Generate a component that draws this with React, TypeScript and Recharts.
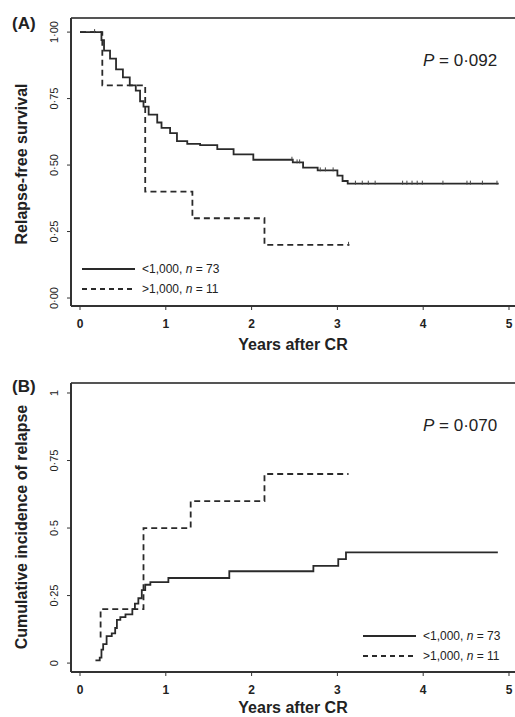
import React from 'react';
import { ComposedChart, Line, Scatter, XAxis, YAxis, ReferenceLine } from 'recharts';

// (A) relapse-free survival, step curves
const aLowT = [0, 0.25, 0.28, 0.35, 0.42, 0.5, 0.58, 0.65, 0.7, 0.74, 0.8, 0.9, 0.95, 1.05, 1.13, 1.25, 1.4, 1.6, 1.79, 2.02, 2.48, 2.6, 2.77, 3.0, 3.06, 3.12, 4.88];
const aLowS = [1.0, 0.97, 0.93, 0.9, 0.86, 0.83, 0.8, 0.78, 0.74, 0.72, 0.69, 0.66, 0.64, 0.62, 0.59, 0.58, 0.575, 0.56, 0.54, 0.52, 0.51, 0.49, 0.48, 0.46, 0.44, 0.43, 0.43];
const aHighT = [0, 0.26, 0.76, 1.31, 2.15, 3.14];
const aHighS = [1.0, 0.8, 0.4, 0.3, 0.2, 0.2];
const aLowCensor = [0.17, 2.47, 2.53, 2.56, 2.8, 2.86, 2.95, 3.21, 3.29, 3.36, 3.44, 3.76, 3.81, 3.87, 3.93, 3.99, 4.23, 4.51, 4.55, 4.69, 4.86];
const aHighCensor = [3.13];

// (B) cumulative incidence of relapse
const bLowT = [0.18, 0.23, 0.25, 0.27, 0.31, 0.37, 0.41, 0.43, 0.47, 0.53, 0.61, 0.64, 0.68, 0.72, 0.76, 0.82, 1.03, 1.74, 2.72, 3.01, 3.1, 4.87];
const bLowC = [0.01, 0.02, 0.05, 0.07, 0.1, 0.11, 0.13, 0.16, 0.17, 0.18, 0.2, 0.22, 0.24, 0.27, 0.29, 0.3, 0.315, 0.34, 0.36, 0.385, 0.41, 0.41];
const bHighT = [0.24, 0.24, 0.74, 1.29, 2.15, 3.13];
const bHighC = [0.095, 0.2, 0.5, 0.6, 0.7, 0.7];

const xTicks = [0, 1, 2, 3, 4, 5];
const yTicks = [0, 0.25, 0.5, 0.75, 1];
const aYLabels = ['0·00', '0·25', '0·50', '0·75', '1·00'];
const bYLabels = ['0', '0·25', '0·5', '0·75', '1'];
const legendLabels = ['<1,000, n = 73', '>1,000, n = 11'];

const FONT = '"Liberation Sans", Arial, sans-serif';
const INK = '#222';
const AXIS = '#333';

const toRows = (ts: number[], vs: number[]) => ts.map((t, i) => ({ t, s: vs[i] }));
const stepAt = (ts: number[], vs: number[], t: number) => {
  let v = vs[0];
  ts.forEach((tt, i) => { if (tt <= t) v = vs[i]; });
  return v;
};
const censorRows = (times: number[], ts: number[], vs: number[]) =>
  times.map((t) => ({ t, s: stepAt(ts, vs, t) }));

const CensorMark = (props: any) => (
  <line x1={props.cx} x2={props.cx} y1={props.cy - 3} y2={props.cy + 1} stroke="#444" strokeWidth={1} />
);

const makeYTick = (labels: string[]) => (props: any) => {
  const idx = yTicks.indexOf(props.payload.value);
  return (
    <text
      transform={`translate(54,${props.y}) rotate(-90)`}
      textAnchor="middle"
      dominantBaseline="central"
      fontSize={11}
      fontFamily={FONT}
      fill={INK}
    >
      {labels[idx]}
    </text>
  );
};

interface PanelProps {
  height: number;
  top: number;
  xHeight: number;
  yDomain: [number, number];
  yLabels: string[];
  low: { t: number; s: number }[];
  high: { t: number; s: number }[];
  censor?: { t: number; s: number }[];
}

const Panel: React.FC<PanelProps> = ({ height, top, xHeight, yDomain, yLabels, low, high, censor }) => (
  <ComposedChart width={515} height={height} margin={{ top, right: 0, bottom: 0, left: 0 }}>
    <XAxis
      dataKey="t"
      type="number"
      domain={[-0.105, 5.07]}
      ticks={xTicks}
      allowDataOverflow
      height={xHeight}
      tickSize={4}
      tickMargin={9}
      stroke={AXIS}
      axisLine={{ stroke: AXIS, strokeWidth: 2 }}
      tick={{ fontSize: 12, fill: INK, fontFamily: FONT, fontWeight: 'bold' }}
    />
    <YAxis
      dataKey="s"
      type="number"
      domain={yDomain}
      ticks={yTicks}
      allowDataOverflow
      width={71}
      tickSize={4}
      stroke={AXIS}
      axisLine={{ stroke: AXIS, strokeWidth: 2 }}
      tick={makeYTick(yLabels)}
    />
    <ReferenceLine y={yDomain[1]} stroke="#555" strokeWidth={2} />
    <Line data={low} dataKey="s" type="stepAfter" stroke="#2a2a2a" strokeWidth={1.8} dot={false} isAnimationActive={false} />
    <Line data={high} dataKey="s" type="stepAfter" stroke="#2a2a2a" strokeWidth={1.8} strokeDasharray="6 4" dot={false} isAnimationActive={false} />
    {censor && <Scatter data={censor} dataKey="s" shape={CensorMark} isAnimationActive={false} />}
  </ComposedChart>
);

const LegendBox: React.FC<{ left: number; top: number }> = ({ left, top }) => (
  <div style={{ position: 'absolute', left, top, fontSize: 12, color: INK, fontFamily: FONT }}>
    {legendLabels.map((lab, i) => (
      <div key={lab} style={{ display: 'flex', alignItems: 'center', height: 20 }}>
        <svg width={60} height={20}>
          <line x1={0} x2={53} y1={10} y2={10} stroke="#2a2a2a" strokeWidth={1.8} strokeDasharray={i === 1 ? '5 4' : undefined} />
        </svg>
        <span>
          {lab.split('n')[0]}
          <i>n</i>
          {lab.split('n')[1]}
        </span>
      </div>
    ))}
  </div>
);

const abs = (extra: React.CSSProperties): React.CSSProperties => ({ position: 'absolute', whiteSpace: 'nowrap', color: INK, fontFamily: FONT, ...extra });

export default function App() {
  const aLow = toRows(aLowT, aLowS);
  const aHigh = toRows(aHighT, aHighS);
  const aCensor = [...censorRows(aLowCensor, aLowT, aLowS), ...censorRows(aHighCensor, aHighT, aHighS)];
  const bLow = toRows(bLowT, bLowC);
  const bHigh = toRows(bHighT, bHighC);

  return (
    <div style={{ position: 'absolute', left: 0, top: 0, width: 515, height: 717, background: '#fff', fontFamily: FONT }}>
      <div style={{ position: 'absolute', left: 0, top: 0 }}>
        <Panel height={360} top={18} xHeight={54} yDomain={[-0.03, 1.053]} yLabels={aYLabels} low={aLow} high={aHigh} censor={aCensor} />
      </div>
      <div style={{ position: 'absolute', left: 0, top: 360 }}>
        <Panel height={357} top={23} xHeight={45} yDomain={[-0.033, 1.037]} yLabels={bYLabels} low={bLow} high={bHigh} />
      </div>

      <div style={abs({ left: 12, top: 15, fontSize: 17, lineHeight: '17px', fontWeight: 'bold' })}>(A)</div>
      <div style={abs({ left: 12, top: 378, fontSize: 17, lineHeight: '17px', fontWeight: 'bold' })}>(B)</div>

      <div style={abs({ left: 423, top: 52, fontSize: 17, lineHeight: '17px' })}><i>P</i> = 0·092</div>
      <div style={abs({ left: 423, top: 417, fontSize: 17, lineHeight: '17px' })}><i>P</i> = 0·070</div>

      <div style={abs({ left: 293, top: 337, fontSize: 16, lineHeight: '16px', fontWeight: 'bold', transform: 'translateX(-50%)' })}>Years after CR</div>
      <div style={abs({ left: 293, top: 700, fontSize: 16, lineHeight: '16px', fontWeight: 'bold', transform: 'translateX(-50%)' })}>Years after CR</div>

      <div style={abs({ left: 22, top: 164, fontSize: 16, lineHeight: '16px', fontWeight: 'bold', transform: 'translate(-50%,-50%) rotate(-90deg)' })}>Relapse-free survival</div>
      <div style={abs({ left: 22, top: 527, fontSize: 16, lineHeight: '16px', fontWeight: 'bold', transform: 'translate(-50%,-50%) rotate(-90deg)' })}>Cumulative incidence of relapse</div>

      <LegendBox left={82} top={259} />
      <LegendBox left={363} top={626} />
    </div>
  );
}
